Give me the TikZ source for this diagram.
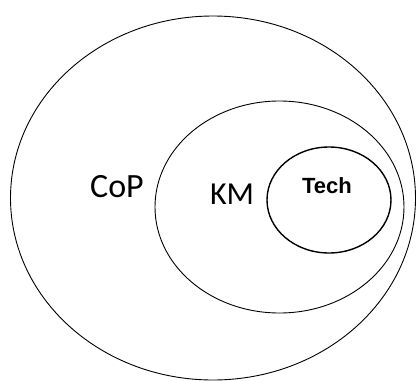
\documentclass[tikz,border=0pt]{standalone}
\usepackage{fontspec}
\setmainfont{Carlito}
\newfontfamily\techfont{Liberation Sans}
\usetikzlibrary{shapes.geometric,positioning}
\tikzstyle{ring}=[draw,ellipse,inner sep=0pt,line width=0.9pt]
\tikzstyle{lbl}=[inner sep=0pt,font=\fontsize{34}{34}\selectfont]

\begin{document}
\begin{tikzpicture}[x=1pt,y=-1pt]
\useasboundingbox (0,0) rectangle (416,381);
\node [ring, minimum width=405pt, minimum height=364pt] (cop) at (213,198) {};
\node [ring, minimum width=249pt, minimum height=212pt] (km) at (279.5,207) {};
\node [ring, line width=1.4pt, minimum width=124pt, minimum height=106pt] (tech) at (329,200) {};
\node [lbl] (coplbl) at (117,187) {CoP};
\node [lbl, font=\fontsize{32}{32}\selectfont] (kmlbl) at (232,194) {KM};
\node [lbl, font=\techfont\bfseries\fontsize{22}{22}\selectfont] (techlbl) at (327,186) {Tech};
\end{tikzpicture}
\end{document}
